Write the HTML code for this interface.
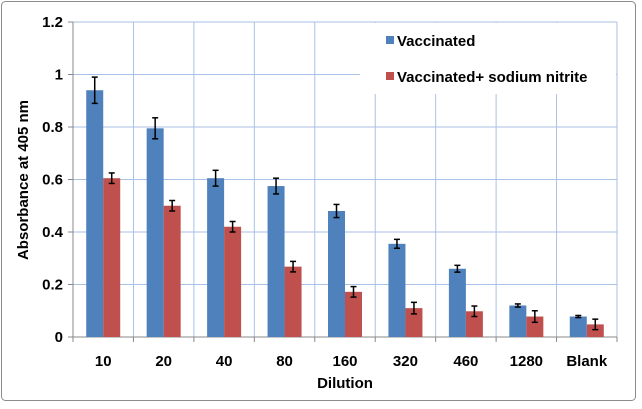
<!DOCTYPE html>
<html><head><meta charset="utf-8"><style>
body{margin:0;background:#fff}
svg{font-family:"Liberation Sans",Arial,sans-serif;font-weight:bold}
</style></head><body>
<svg id="c" width="642" height="404">
<rect x="1.5" y="1.5" width="634" height="399" rx="4" fill="#fff" stroke="#8c8c8c"/>
</svg>
<script>
const categories=["10","20","40","80","160","320","460","1280","Blank"];
const vaccinated=[0.94,0.795,0.605,0.575,0.48,0.355,0.26,0.12,0.078];
const vaccinatedErr=[0.05,0.04,0.03,0.03,0.025,0.017,0.013,0.006,0.004];
const nitrite=[0.605,0.5,0.42,0.268,0.172,0.11,0.098,0.078,0.048];
const nitriteErr=[0.02,0.02,0.02,0.02,0.02,0.022,0.02,0.022,0.02];
const yTicks=[0,0.2,0.4,0.6,0.8,1,1.2];
const yTickLabels=["0","0.2","0.4","0.6","0.8","1","1.2"];
const svg=document.getElementById('c');const NS="http://www.w3.org/2000/svg";
const L=73,R=617,T=22,B=337;
const step=(R-L)/categories.length;
const y=v=>B-(v/1.2)*(B-T);
const x=i=>L+step*i+step/2;
function mk(t,a,p){const e=document.createElementNS(NS,t);for(const k in a)e.setAttribute(k,a[k]);(p||svg).appendChild(e);return e;}
const g=mk('g',{});
yTicks.forEach((t,i)=>{if(t===0)return;
 mk('line',{x1:L,x2:R,y1:y(t),y2:y(t),stroke:'#a9c1e6','stroke-width':1},g);
});
for(let i=1;i<=categories.length;i++){mk('line',{x1:L+step*i,x2:L+step*i,y1:T,y2:B,stroke:'#a9c1e6','stroke-width':1},g);}
const ax=mk('g',{});
mk('line',{x1:L,x2:L,y1:T,y2:B,stroke:'#888'},ax);
mk('line',{x1:L,x2:R,y1:B,y2:B,stroke:'#888'},ax);
yTicks.forEach((t,i)=>{mk('line',{x1:L-5,x2:L,y1:y(t),y2:y(t),stroke:'#888'},ax);
 const tx=mk('text',{x:L-10,y:y(t)+5,'text-anchor':'end','font-size':15,fill:'#000'});tx.textContent=yTickLabels[i];
 });
for(let i=0;i<=categories.length;i++)mk('line',{x1:L+step*i,x2:L+step*i,y1:B,y2:B+5,stroke:'#888'},ax);
const bw=17;
function bars(vals,errs,off,col,name){
 vals.forEach((v,i)=>{const bx=x(i)+off;
  const r=mk('rect',{x:bx,y:y(v),width:bw,height:B-y(v),fill:col});
  
  
  const cx=bx+bw/2,e=errs[i];
  const eg=mk('g',{stroke:'#000','stroke-width':1.5});
  
  
  mk('line',{x1:cx,x2:cx,y1:y(v+e),y2:y(v-e)},eg);
  mk('line',{x1:cx-3,x2:cx+3,y1:y(v+e),y2:y(v+e)},eg);
  mk('line',{x1:cx-3,x2:cx+3,y1:y(v-e),y2:y(v-e)},eg);
 });}
bars(vaccinated,vaccinatedErr,-bw,'#4f81bd','vaccinated');
bars(nitrite,nitriteErr,0,'#c0504d','nitrite');
categories.forEach((c,i)=>{const t=mk('text',{x:x(i),y:B+29,'text-anchor':'middle','font-size':15});t.textContent=c;
 });
const xt=mk('text',{x:(L+R)/2,y:388,'text-anchor':'middle','font-size':15});xt.textContent='Dilution';

const yt=mk('text',{x:0,y:0,'text-anchor':'middle','font-size':15,transform:'translate(28,180) rotate(-90)'});yt.textContent='Absorbance at 405 nm';

const lg=mk('g',{});
mk('rect',{x:360,y:T+1,width:R-361,height:93-T,fill:'#fff'},lg);
mk('rect',{x:386,y:36,width:8,height:8,fill:'#4f81bd'},lg);
const l1=mk('text',{x:397,y:46,'font-size':15},lg);l1.textContent='Vaccinated';
mk('rect',{x:386,y:72,width:8,height:8,fill:'#c0504d'},lg);
const l2=mk('text',{x:397,y:82,'font-size':15},lg);l2.textContent='Vaccinated+ sodium nitrite';
</script>
</body></html>
